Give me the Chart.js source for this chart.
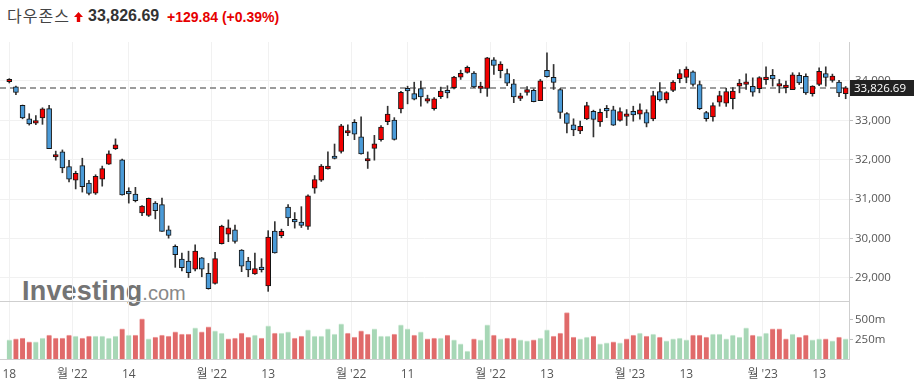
<!DOCTYPE html>
<html>
<head>
<meta charset="utf-8">
<script src="https://cdn.jsdelivr.net/npm/chart.js@4.4.0/dist/chart.umd.min.js"></script>
<style>
    html, body { margin: 0; padding: 0; background: #fff; }
    #wrap { position: relative; width: 915px; height: 390px; overflow: hidden; font-family: Arial, "Liberation Sans", sans-serif; }
    #wrap canvas { position: absolute; left: 0; z-index: 1; }
    #priceChart { top: 0; }
    #volChart { top: 300px; }
    .hd { position: absolute; white-space: nowrap; }
    #name { left: 7px; top: 7px; font: 16px/16px "Noto Sans CJK KR", sans-serif; letter-spacing: 1px; color: #444; }
    #arrow { left: 74px; top: 12px; }
    #last { left: 88px; top: 8px; font: bold 16px/16px Arial, "Liberation Sans", sans-serif; color: #333; }
    #chg { left: 167px; top: 10px; font: bold 14px/14px Arial, "Liberation Sans", sans-serif; color: #e60000; }
    #wm { position: absolute; left: 22px; top: 278px; z-index: 0; white-space: nowrap; line-height: 27px; }
    #wm b { font: bold 27px/27px Arial, "Liberation Sans", sans-serif; color: #747474; letter-spacing: 0.2px; }
    #wm span { font: 20px/27px Arial, "Liberation Sans", sans-serif; color: #888; }
</style>
</head>
<body>
<div id="wrap">
    <div class="hd" id="name">다우존스</div>
    <svg class="hd" id="arrow" width="9" height="10" viewBox="0 0 9 10"><path d="M4.5 0 L9 5 L6.2 5 L6.2 10 L2.8 10 L2.8 5 L0 5 Z" fill="#e60000"/></svg>
    <div class="hd" id="last">33,826.69</div>
    <div class="hd" id="chg">+129.84 (+0.39%)</div>
    <div id="wm"><b>Investing</b><span>.com</span></div>
    <canvas id="priceChart" width="915" height="302"></canvas>
    <canvas id="volChart" width="915" height="90"></canvas>
</div>
<script>
// Dow Jones daily candles, 18 Aug 2022 .. 17 Feb 2023
const opens = [33980,33850,33380,33040,32930,33060,33300,32070,32200,31830,
    31480,31850,31410,31150,31510,31890,32280,32000,31150,31130,
    30650,30590,30900,30860,30220,29800,29480,29430,29220,29510,
    29120,28860,29870,30110,30220,29710,29430,29100,29250,28800,
    30190,30076,30800,30440,30420,30310,31280,31480,31770,32070,
    32210,32680,32950,32580,31970,32290,32510,32970,33010,33290,
    33800,33680,33810,33490,33300,33600,33760,33830,34100,34220,
    34200,33810,33810,34540,34260,34190,33930,33560,33710,33760,
    33500,34270,34090,33780,33170,32890,32730,33040,33230,32960,
    33270,33270,33000,33100,33230,33160,33200,33040,33730,33520,
    33760,34060,34090,34230,33910,33200,33085,33465,33440,33550,
    33870,33915,33865,33805,34035,34145,33870,33830,33780,34145,
    34120,33680,33915,34190,34015,33975,33680];
const highs = [34060,33870,33390,33170,33120,33320,33380,32220,32250,31985,
    31710,32040,31480,31620,31840,32230,32530,32020,31290,31300,
    30840,31030,30940,31030,30320,29840,29630,29680,29840,29520,
    29370,29650,30340,30475,30345,29720,29525,29630,29490,30200,
    30430,30240,30860,30660,30810,31110,31600,31880,32200,32400,
    32900,32890,33020,33090,32200,32620,32870,33360,33070,33740,
    33868,33970,34000,33640,33580,33845,33880,34120,34275,34380,
    34240,33970,34600,34595,34490,34300,34040,33690,33860,33800,
    34040,34712,34420,33810,33200,33040,32980,33460,33260,33290,
    33380,33360,33320,33275,33360,33420,33270,33740,33960,33730,
    34010,34290,34360,34260,34000,33230,33445,33740,33817,33830,
    34040,34180,34080,34110,34360,34293,34040,33995,34210,34210,
    34183,33880,34335,34360,34175,34020,33860];
const lows = [33950,33650,33040,32880,32890,32900,32280,31990,31670,31435,
    31260,31180,31110,31120,31330,31880,32260,31100,30900,30930,
    30580,30560,30500,30180,30010,29270,29180,29010,29180,29030,
    28715,28840,29860,29920,29880,29160,29030,29090,29150,28660,
    29630,30020,30330,30265,30280,30230,31150,31450,31760,32020,
    32170,32610,32510,32140,31780,31990,32470,32890,32500,33190,
    33420,33520,33360,33440,33260,33555,33570,33800,34040,34200,
    33830,33700,33610,34170,34080,33880,33450,33500,33640,33470,
    33500,34100,33785,33050,32680,32610,32660,33020,32580,32850,
    33070,32870,32980,32870,32980,33030,32835,32990,33490,33440,
    33730,33955,33955,33870,33275,32980,32980,33360,33355,33290,
    33700,33784,33613,33700,33910,33870,33700,33700,33780,33910,
    33657,33615,33880,33868,33970,33600,33550];
const closes = [33999,33707,33064,32910,32969,33292,32283,32099,31791,31510,
    31656,31318,31145,31581,31775,32152,32381,31105,31135,30962,
    30822,31020,30706,30184,30077,29590,29261,29135,29684,29226,
    28726,29491,30316,30274,29927,29297,29203,29239,29211,30039,
    29635,30186,30524,30424,30334,31083,31500,31837,31839,32033,
    32862,32733,32653,32148,32001,32403,32827,33161,32514,33715,
    33748,33537,33593,33554,33546,33746,33700,34098,34194,34347,
    33849,33853,34590,34395,34430,33947,33596,33598,33781,33476,
    34005,34109,33966,33202,32920,32758,32850,33376,33027,33204,
    33242,32876,33221,33147,33136,33270,32930,33631,33518,33704,
    33973,34190,34303,33911,33297,33045,33375,33630,33734,33744,
    33949,33978,33717,34086,34093,34054,33926,33891,34157,33949,
    33700,33869,34246,34089,34128,33696.85,33826.69];
const prevCloseStart = 33980; // close before the first candle
// volume in millions
const volumes = [250,262,274,226,226,274,310,274,274,310,
    298,274,298,298,298,274,298,383,310,310,
    504,262,286,310,298,347,322,322,395,347,
    407,359,334,262,274,334,286,310,274,419,
    334,334,347,274,298,371,298,298,383,322,
    443,334,286,359,322,383,298,298,322,431,
    383,310,347,262,274,274,310,250,202,117,
    262,250,431,310,262,274,274,250,238,250,
    274,371,298,334,580,286,262,286,298,202,
    214,226,214,262,310,334,298,322,286,238,
    262,274,250,310,310,286,322,322,262,310,
    286,395,310,298,334,383,383,262,322,286,
    310,250,262,262,238,286,262];

// x ticks: candle index (day labels) or month boundary (month labels)
const xTickIdx = [0, 9.5, 18, 30.5, 39, 51.5, 60, 72.5, 81, 93.5, 102, 113.5, 122];
const xTickLabels = ['18', "월 '22", '14', "월 '22", '13', "월 '22", '11', "월 '22", '13', "월 '23", '13', "월 '23", '13'];
const priceTicks = [29000, 30000, 31000, 32000, 33000, 34000];
const volTicks = [250, 500];

const N = closes.length;
const idx = closes.map((_, i) => i);
const lastPrice = closes[N - 1];

const RED = '#f20000';
const BLUE = '#4b9bd8';
const GRID = '#f1f1f1';
const AXIS = '#cfcfcf';
const TICK_FONT = { family: "'Open Sans', 'Noto Sans CJK KR', sans-serif", size: 11.5 };

const volUp = closes.map((c, i) => c >= (i ? closes[i - 1] : prevCloseStart));

// keep the plot area exactly where the layout padding puts it
function noPad(s) {
    s.paddingTop = 0;
    s.paddingBottom = 0;
    s.paddingLeft = 0;
    s.paddingRight = 0;
}

function xAxis(showLabels) {
    return {
        type: 'linear',
        min: -1.4,
        max: 126.5,
        offset: false,
        afterBuildTicks: s => { s.ticks = xTickIdx.map(v => ({ value: v })); },
        afterFit: s => { s.height = showLabels ? 31 : 0; noPad(s); },
        grid: { color: GRID, drawTicks: false, offset: false },
        border: { color: AXIS },
        ticks: {
            display: showLabels,
            autoSkip: false,
            maxRotation: 0,
            padding: 8,
            color: '#555',
            font: { family: TICK_FONT.family, size: 12 },
            callback: (v, i) => xTickLabels[i]
        }
    };
}

// dashed last-price line and the dark price tag on the axis
const lastPricePlugin = {
    id: 'lastPrice',
    beforeDatasetsDraw(chart) {
        const { ctx, chartArea: a, scales: { y } } = chart;
        const py = Math.round(y.getPixelForValue(lastPrice));
        ctx.save();
        ctx.strokeStyle = '#9c9c9c';
        ctx.lineWidth = 2;
        ctx.setLineDash([6, 4]);
        ctx.beginPath();
        ctx.moveTo(a.left, py);
        ctx.lineTo(a.right, py);
        ctx.stroke();
        ctx.restore();
    },
    afterDraw(chart) {
        const { ctx, chartArea: a, scales: { y } } = chart;
        const py = Math.round(y.getPixelForValue(lastPrice));
        ctx.save();
        ctx.fillStyle = '#222';
        ctx.fillRect(a.right + 1, py - 8, 64, 16);
        ctx.fillStyle = '#fff';
        ctx.font = "11.5px 'Open Sans'";
        ctx.textBaseline = 'middle';
        ctx.fillText(lastPrice.toLocaleString('en-US', { minimumFractionDigits: 2 }), a.right + 5, py + 1);
        ctx.restore();
    }
};

new Chart(document.getElementById('priceChart'), {
    type: 'bar',
    data: {
        datasets: [{
            label: 'body',
            data: idx.map(i => ({ x: i, y: [opens[i], closes[i]] })),
            backgroundColor: idx.map(i => closes[i] >= opens[i] ? RED : BLUE),
            borderColor: '#161616',
            borderWidth: 1,
            borderSkipped: false,
            barThickness: 5,
            minBarLength: 2.5,
            grouped: false,
            order: 1
        }, {
            label: 'wick',
            data: idx.map(i => ({ x: i, y: [lows[i], highs[i]] })),
            backgroundColor: '#333',
            borderWidth: 0,
            barThickness: 1,
            grouped: false,
            order: 2
        }]
    },
    options: {
        responsive: false,
        devicePixelRatio: 1,
        animation: false,
        events: [],
        layout: { padding: { top: 42, bottom: 1, left: 0, right: 0 } },
        plugins: { legend: { display: false }, tooltip: { enabled: false } },
        scales: {
            x: xAxis(false),
            y: {
                position: 'right',
                min: 28415,
                max: 34990,
                afterBuildTicks: s => { s.ticks = priceTicks.map(v => ({ value: v })); },
                afterFit: s => { s.width = 66; noPad(s); },
                grid: { color: GRID, tickLength: 4, tickColor: '#bdbdbd' },
                border: { color: AXIS },
                ticks: { padding: 2, color: '#555', font: TICK_FONT, callback: v => v.toLocaleString('en-US') }
            }
        }
    },
    plugins: [lastPricePlugin]
});

new Chart(document.getElementById('volChart'), {
    type: 'bar',
    data: {
        datasets: [{
            label: 'volume',
            data: idx.map(i => ({ x: i, y: volumes[i] })),
            backgroundColor: volUp.map(u => u ? '#a7d7b6' : '#e06a6a'),
            borderColor: volUp.map(u => u ? '#d2ecda' : '#f2a8a8'),
            borderWidth: { top: 1, left: 0, right: 0, bottom: 0 },
            borderSkipped: false,
            barThickness: 5
        }]
    },
    options: {
        responsive: false,
        devicePixelRatio: 1,
        animation: false,
        events: [],
        layout: { padding: { top: 2, bottom: 0, left: 0, right: 0 } },
        plugins: { legend: { display: false }, tooltip: { enabled: false } },
        scales: {
            x: xAxis(true),
            y: {
                position: 'right',
                min: 20,
                max: 708,
                afterBuildTicks: s => { s.ticks = volTicks.map(v => ({ value: v })); },
                afterFit: s => { s.width = 66; noPad(s); },
                grid: { drawOnChartArea: false, tickLength: 4, tickColor: '#bdbdbd' },
                border: { color: AXIS },
                ticks: { padding: 2, color: '#555', font: TICK_FONT, callback: v => v + 'm' }
            }
        }
    }
});
</script>
</body>
</html>
